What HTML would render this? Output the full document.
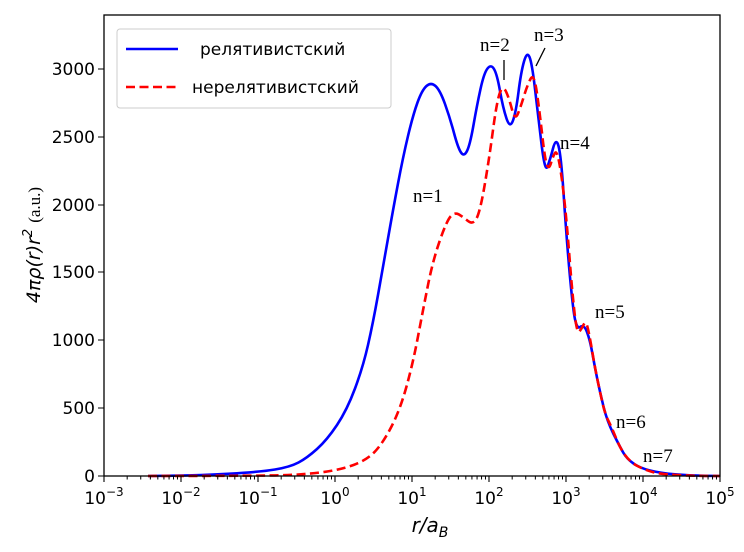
<!DOCTYPE html>
<html><head><meta charset="utf-8"><style>
body{margin:0;background:#fff;}
svg text{font-family:"DejaVu Sans","Liberation Sans",sans-serif;}
.s{font-family:"Liberation Serif",serif;}
</style></head><body>
<svg width="744" height="547" viewBox="0 0 744 547" xmlns="http://www.w3.org/2000/svg">
<defs>
<g id="dec" stroke="#000" stroke-width="1">
<path d="M23.18,476v3.5M36.74,476v3.5M46.36,476v3.5M53.82,476v3.5M59.92,476v3.5M65.07,476v3.5M69.54,476v3.5M73.48,476v3.5"/>
</g>
</defs>
<rect width="744" height="547" fill="#fff"/>
<g fill="none" stroke-linejoin="round" stroke-width="2.6">
<path stroke="#0000ff" d="M148,476 L174,475.65 Q200,475.3 230,473.65 Q260,472 275,469.5 Q290,467 298.5,462.5 Q307,458 317,449 Q327,440 337,425 Q347,410 355,388.5 Q363,367 368,345 Q373,323 378,295 Q383,267 388,238.5 Q393,210 398,183.5 Q403,157 408,136 Q413,115 417.5,102.5 Q422,90 426.5,86 Q431,82 435.5,86 Q440,90 445,104 Q450,118 454,133 Q458,148 461,152.5 Q464,157 467,151 Q470,145 473.5,125 Q477,105 480.5,89 Q484,73 487.5,68.5 Q491,64 494,69 Q497,74 500,91 Q503,108 506.5,118.5 Q510,129 513,120.5 Q516,112 518.5,92 Q521,72 524,61.5 Q527,51 529.5,57 Q532,63 535,89 Q538,115 541.5,144 Q545,173 547.5,166.5 Q550,160 553,148.5 Q556,137 558.5,146 Q561,155 563.5,192.5 Q566,230 568.5,260 Q571,290 573.5,310 Q576,330 580,327 Q584,324 587,332 Q590,340 592.5,354 Q595,368 597.5,380 Q600,392 603.5,406.5 Q607,421 613.5,434 Q620,447 623.5,453 Q627,459 633.5,463.5 Q640,468 650,470.5 Q660,473 675,474.35 Q690,475.7 705,475.85 L720,476"/>
<path stroke="#ff0000" stroke-dasharray="9,4.5" d="M148,476 L199,475.9 Q250,475.8 275,475.4 Q300,475 320,472.5 Q340,470 353.5,465 Q367,460 375,451.5 Q383,443 391.5,426.5 Q400,410 406.5,386.5 Q413,363 418,336.5 Q423,310 428,285 Q433,260 440,240 Q447,220 451,216 Q455,212 459,214.5 Q463,217 468,221 Q473,225 476.5,218.5 Q480,212 484.5,186 Q489,160 493,130 Q497,100 500,92.5 Q503,85 506,91.5 Q509,98 512,109.5 Q515,121 518,113.5 Q521,106 524,96 Q527,86 530.5,79 Q534,72 537,93.5 Q540,115 542.5,137.5 Q545,160 547,165 Q549,170 551,163 Q553,156 555,153 Q557,150 559.5,164 Q562,178 564.5,201.5 Q567,225 569.5,257.5 Q572,290 574.5,312.5 Q577,335 579.5,331.5 Q582,328 584,324 Q586,320 588,329 Q590,338 592.5,353 Q595,368 597.5,380 Q600,392 602.5,403 Q605,414 608.5,421 Q612,428 616,438 Q620,448 625,455 Q630,462 637.5,466 Q645,470 652.5,472 Q660,474 675,474.9 Q690,475.8 705,475.9 L720,476"/>
</g>
<g stroke="#000" stroke-width="1.3">
<line x1="504" y1="60" x2="504" y2="80"/>
<line x1="545" y1="48" x2="536" y2="66"/>
</g>
<g font-size="19" fill="#000">
<text class="s" x="413" y="202">n=1</text>
<text class="s" x="480" y="51">n=2</text>
<text class="s" x="534" y="41">n=3</text>
<text class="s" x="560" y="149">n=4</text>
<text class="s" x="595" y="318">n=5</text>
<text class="s" x="616" y="428">n=6</text>
<text class="s" x="643" y="462">n=7</text>
</g>
<rect x="104" y="15" width="616" height="461" fill="none" stroke="#000" stroke-width="1.3"/>
<path stroke="#000" stroke-width="1.1" d="M98,476h6M98,408h6M98,340h6M98,272h6M98,205h6M98,137h6M98,69h6M104,476v6M181,476v6M258,476v6M335,476v6M412,476v6M489,476v6M566,476v6M643,476v6M720,476v6"/>
<use href="#dec" x="104"/><use href="#dec" x="181"/><use href="#dec" x="258"/><use href="#dec" x="335"/><use href="#dec" x="412"/><use href="#dec" x="489"/><use href="#dec" x="566"/><use href="#dec" x="643"/>
<g font-size="17" fill="#000" text-anchor="end">
<text x="95" y="482">0</text>
<text x="95" y="414">500</text>
<text x="95" y="346">1000</text>
<text x="95" y="278">1500</text>
<text x="95" y="211">2000</text>
<text x="95" y="143">2500</text>
<text x="95" y="75">3000</text>
</g>
<g font-size="17" fill="#000" text-anchor="middle">
<text x="104" y="504">10<tspan font-size="12" dy="-8">−3</tspan></text>
<text x="181" y="504">10<tspan font-size="12" dy="-8">−2</tspan></text>
<text x="258" y="504">10<tspan font-size="12" dy="-8">−1</tspan></text>
<text x="335" y="504">10<tspan font-size="12" dy="-8">0</tspan></text>
<text x="412" y="504">10<tspan font-size="12" dy="-8">1</tspan></text>
<text x="489" y="504">10<tspan font-size="12" dy="-8">2</tspan></text>
<text x="566" y="504">10<tspan font-size="12" dy="-8">3</tspan></text>
<text x="643" y="504">10<tspan font-size="12" dy="-8">4</tspan></text>
<text x="720" y="504">10<tspan font-size="12" dy="-8">5</tspan></text>
</g>
<text x="430" y="532" font-size="20" font-style="italic" text-anchor="middle">r/a<tspan font-size="14" dy="5">B</tspan></text>
<g transform="translate(40,245) rotate(-90)">
<text text-anchor="middle" font-size="19"><tspan font-style="italic">4πρ(r)r</tspan><tspan font-style="italic" font-size="13" dy="-8">2</tspan><tspan class="s" font-size="17" dy="8" dx="6">(a.u.)</tspan></text>
</g>
<rect x="117" y="29" width="274" height="79" rx="3" fill="#fff" fill-opacity="0.8" stroke="#ccc" stroke-width="1"/>
<line x1="126" y1="49" x2="178" y2="49" stroke="#0000ff" stroke-width="2.6"/>
<line x1="126" y1="87" x2="178" y2="87" stroke="#ff0000" stroke-width="2.6" stroke-dasharray="9,4.5"/>
<text x="200" y="55" font-size="17">релятивистский</text>
<text x="192" y="93" font-size="17">нерелятивистский</text>
</svg>
</body></html>
